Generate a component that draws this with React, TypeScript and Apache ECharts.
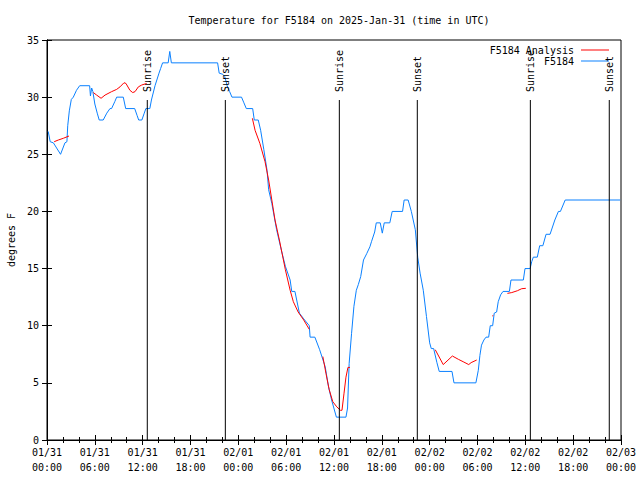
import React, { useEffect, useRef } from "react";
import * as echarts from "echarts";

// Hours since 2025-01-31 00:00 UTC, temperature (deg F)
const obsF5184: [number, number][] = [
  [0.15, 27.0], [0.4, 26.1], [0.8, 26.0], [1.7, 25.0], [2.25, 26.0], [2.5, 26.1], [2.6, 27.5], [2.8, 28.8],
  [3.05, 29.8], [3.3, 30.0], [3.7, 30.6], [4.1, 31.0], [5.35, 31.0], [5.45, 30.1], [5.6, 30.8], [5.75, 30.5],
  [6.0, 29.4], [6.3, 28.6], [6.55, 28.0], [7.05, 28.0], [7.5, 28.6], [7.9, 29.0], [8.1, 29.0], [8.5, 29.6],
  [8.74, 30.0], [9.57, 30.0], [9.87, 29.0], [11.0, 29.0], [11.3, 28.4], [11.5, 28.0], [11.9, 28.0], [12.2, 28.6],
  [12.4, 29.0], [12.9, 29.0], [13.1, 29.75], [13.55, 31.0], [14.05, 32.1], [14.25, 32.5], [14.5, 33.0], [15.2, 33.0],
  [15.4, 34.0], [15.6, 33.0], [21.4, 33.0], [21.6, 32.1], [22.05, 32.0], [22.3, 31.8], [22.6, 31.0], [22.9, 30.5],
  [23.2, 30.0], [24.4, 30.0], [24.7, 29.5], [25.0, 29.0], [25.8, 29.0], [26.0, 28.0], [26.5, 28.0], [26.8, 27.1],
  [27.2, 25.4], [27.6, 23.6], [27.8, 21.9], [28.2, 20.7], [28.8, 18.4], [29.4, 16.6], [29.9, 15.2], [30.5, 14.0],
  [30.7, 13.0], [31.1, 13.0], [31.66, 11.1], [32.2, 10.6], [32.9, 10.0], [33.0, 9.0], [33.6, 9.0], [34.2, 7.9],
  [34.9, 6.4], [35.3, 4.7], [35.7, 3.5], [36.3, 2.0], [37.5, 2.0], [37.7, 2.8], [37.9, 6.7], [38.2, 9.3],
  [38.5, 11.7], [38.8, 13.1], [39.05, 13.6], [39.35, 14.3], [39.7, 15.75], [40.1, 16.3], [40.5, 16.9], [40.7, 17.35],
  [41.1, 18.2], [41.3, 19.0], [41.8, 19.0], [42.06, 18.1], [42.3, 19.0], [43.0, 19.0], [43.3, 20.0], [44.6, 20.0],
  [44.8, 21.0], [45.3, 21.0], [45.7, 20.0], [46.2, 18.4], [46.5, 16.0], [46.8, 14.6], [47.2, 13.1], [47.6, 10.8],
  [48.0, 8.5], [48.2, 8.0], [48.5, 8.0], [48.9, 6.8], [49.2, 6.0], [50.8, 6.0], [51.05, 5.0], [53.8, 5.0],
  [54.1, 6.1], [54.3, 7.4], [54.5, 8.3], [54.8, 8.75], [55.07, 9.0], [55.4, 9.0], [55.6, 10.0], [55.9, 10.0],
  [56.1, 11.1], [56.4, 11.2], [56.6, 12.1], [56.9, 12.7], [57.2, 13.0], [58.0, 13.0], [58.2, 14.0], [59.75, 14.0],
  [59.96, 15.0], [60.6, 15.0], [60.8, 15.6], [61.0, 16.0], [61.5, 16.0], [61.8, 17.0], [62.2, 17.0], [62.6, 18.0],
  [63.1, 18.0], [63.7, 19.25], [64.15, 20.0], [64.4, 20.0], [65.0, 21.0], [71.9, 21.0],
];

// Analysis segments (gaps between them)
const analysisSeg1: [number, number][] = [[0.9, 26.1], [1.42, 26.25], [2.05, 26.4], [2.76, 26.6]];
const analysisSeg2: [number, number][] = [
  [5.81, 30.4], [6.23, 30.18], [6.78, 29.9], [7.28, 30.18], [8.1, 30.48], [8.74, 30.68], [9.16, 30.9],
  [9.66, 31.26], [9.9, 31.2], [10.4, 30.6], [10.75, 30.4], [11.04, 30.48], [11.46, 30.9], [11.88, 31.06], [12.5, 31.2],
];
const analysisSeg3: [number, number][] = [
  [25.76, 28.15], [26.1, 27.1], [26.7, 25.96], [27.35, 24.35], [27.8, 22.75], [28.2, 21.0], [28.6, 19.25],
  [29.15, 17.5], [29.9, 14.9], [30.5, 13.1], [30.9, 12.1], [31.5, 11.2], [32.2, 10.5], [32.9, 9.68],
];
const analysisSeg4: [number, number][] = [
  [34.6, 7.3], [35.0, 5.8], [35.4, 4.4], [35.85, 3.35], [36.35, 2.9], [36.8, 2.6], [37.0, 2.6],
  [37.26, 4.1], [37.5, 5.5], [37.75, 6.35], [38.0, 6.35],
];
const analysisSeg5: [number, number][] = [
  [48.7, 7.9], [49.7, 6.6], [50.85, 7.35], [51.6, 7.06], [52.2, 6.85], [52.9, 6.6], [53.2, 6.77], [53.9, 7.0],
];
const analysisSeg6: [number, number][] = [[55.85, 10.85], [55.98, 10.9]];
const analysisSeg7: [number, number][] = [[57.75, 12.83], [58.3, 12.9], [59.0, 13.06], [59.55, 13.24], [60.06, 13.27]];

const sunEventHours = [12.58, 22.37, 36.67, 46.45, 60.63, 70.53];
const sunEventNames = ["Sunrise", "Sunset", "Sunrise", "Sunset", "Sunrise", "Sunset"];

const xTickLabels = [
  "01/31\n00:00", "01/31\n06:00", "01/31\n12:00", "01/31\n18:00",
  "02/01\n00:00", "02/01\n06:00", "02/01\n12:00", "02/01\n18:00",
  "02/02\n00:00", "02/02\n06:00", "02/02\n12:00", "02/02\n18:00", "02/03\n00:00",
];

const FONT = "'DejaVu Sans Mono', 'Liberation Mono', monospace";
const RED = "#ff0000";
const BLUE = "#0a80ff";

export default function App() {
  const ref = useRef<HTMLDivElement>(null);
  useEffect(() => {
    if (!ref.current) return;
    const chart = echarts.init(ref.current, null, { renderer: "svg" });
    const analysisSegs = [analysisSeg1, analysisSeg2, analysisSeg3, analysisSeg4, analysisSeg5, analysisSeg6, analysisSeg7];
    const lineTop = 29.75;
    const labelStart = 30.45;
    const axisCommon = {
      axisLine: { show: true, lineStyle: { color: "#000", width: 1 } },
      splitLine: { show: false },
    };
    chart.setOption({
      animation: false,
      backgroundColor: "#fff",
      title: {
        text: "Temperature for F5184 on 2025-Jan-31 (time in UTC)",
        left: 334,
        top: 10,
        textAlign: "center",
        textStyle: { fontFamily: FONT, fontSize: 10, fontWeight: "normal", color: "#000" },
      },
      legend: {
        orient: "vertical",
        align: "right",
        right: 26,
        top: 40,
        itemWidth: 28,
        itemHeight: 1,
        itemGap: 1,
        icon: "rect",
        data: ["F5184 Analysis", "F5184"],
        textStyle: { fontFamily: FONT, fontSize: 10, color: "#000", padding: [0, 2, 0, 0] },
      },
      grid: {
        left: 47, top: 40, width: 574, height: 400,
        show: true, borderColor: "#000", borderWidth: 1,
        outerBoundsMode: "none", containLabel: false,
      },
      xAxis: [
        {
          type: "value",
          min: 0,
          max: 72,
          interval: 6,
          position: "bottom",
          ...axisCommon,
          axisTick: { show: true, inside: true, length: 5, lineStyle: { color: "#000" } },
          minorTick: { show: true, splitNumber: 3, length: 3, lineStyle: { color: "#000" } },
          axisLabel: {
            fontFamily: FONT,
            fontSize: 10,
            color: "#000",
            lineHeight: 15,
            margin: 5,
            formatter: (v: number) => xTickLabels[Math.round(v / 6)] ?? "",
          },
        },
        {
          type: "value",
          min: 0,
          max: 72,
          interval: 6,
          position: "top",
          ...axisCommon,
          axisTick: { show: true, inside: true, length: 5, lineStyle: { color: "#000" } },
          minorTick: { show: true, splitNumber: 3, length: 3, lineStyle: { color: "#000" } },
          axisLabel: { show: false },
        },
      ],
      yAxis: [
        {
          type: "value",
          min: 0,
          max: 35,
          interval: 5,
          position: "left",
          name: "degrees F",
          nameLocation: "middle",
          nameRotate: 90,
          nameGap: 31,
          nameTextStyle: { fontFamily: FONT, fontSize: 10, color: "#000" },
          ...axisCommon,
          axisTick: { show: true, inside: true, length: 5, lineStyle: { color: "#000" } },
          axisLabel: { fontFamily: FONT, fontSize: 10, color: "#000", margin: 8 },
        },
        {
          type: "value",
          min: 0,
          max: 35,
          interval: 5,
          position: "right",
          ...axisCommon,
          axisTick: { show: true, inside: true, length: 5, lineStyle: { color: "#000" } },
          axisLabel: { show: false },
        },
      ],
      series: [
        ...analysisSegs.map((seg) => ({
          name: "F5184 Analysis",
          type: "line",
          symbol: "none",
          data: seg,
          lineStyle: { color: RED, width: 1 },
          itemStyle: { color: RED },
          z: 3,
        })),
        {
          name: "F5184",
          type: "line",
          symbol: "none",
          data: obsF5184,
          lineStyle: { color: BLUE, width: 1 },
          itemStyle: { color: BLUE },
          z: 2,
        },
        {
          type: "custom",
          name: "sun",
          data: sunEventHours.map((h) => [h, 0]),
          z: 5,
          silent: true,
          renderItem: (params: any, api: any) => {
            const h = api.value(0);
            const p0 = api.coord([h, 0]);
            const p1 = api.coord([h, lineTop]);
            const pt = api.coord([h, labelStart]);
            return {
              type: "group",
              children: [
                {
                  type: "line",
                  shape: { x1: p0[0], y1: p0[1], x2: p1[0], y2: p1[1] },
                  style: { stroke: "#000", lineWidth: 1 },
                },
                {
                  type: "text",
                  x: pt[0],
                  y: pt[1],
                  rotation: Math.PI / 2,
                  style: {
                    text: sunEventNames[params.dataIndex],
                    fill: "#000",
                    font: `10px ${FONT}`,
                    align: "left",
                    verticalAlign: "middle",
                  },
                },
              ],
            };
          },
        },
      ],
    });
    return () => chart.dispose();
  }, []);
  return <div ref={ref} style={{ position: "fixed", left: 0, top: 0, width: 640, height: 480 }} />;
}
